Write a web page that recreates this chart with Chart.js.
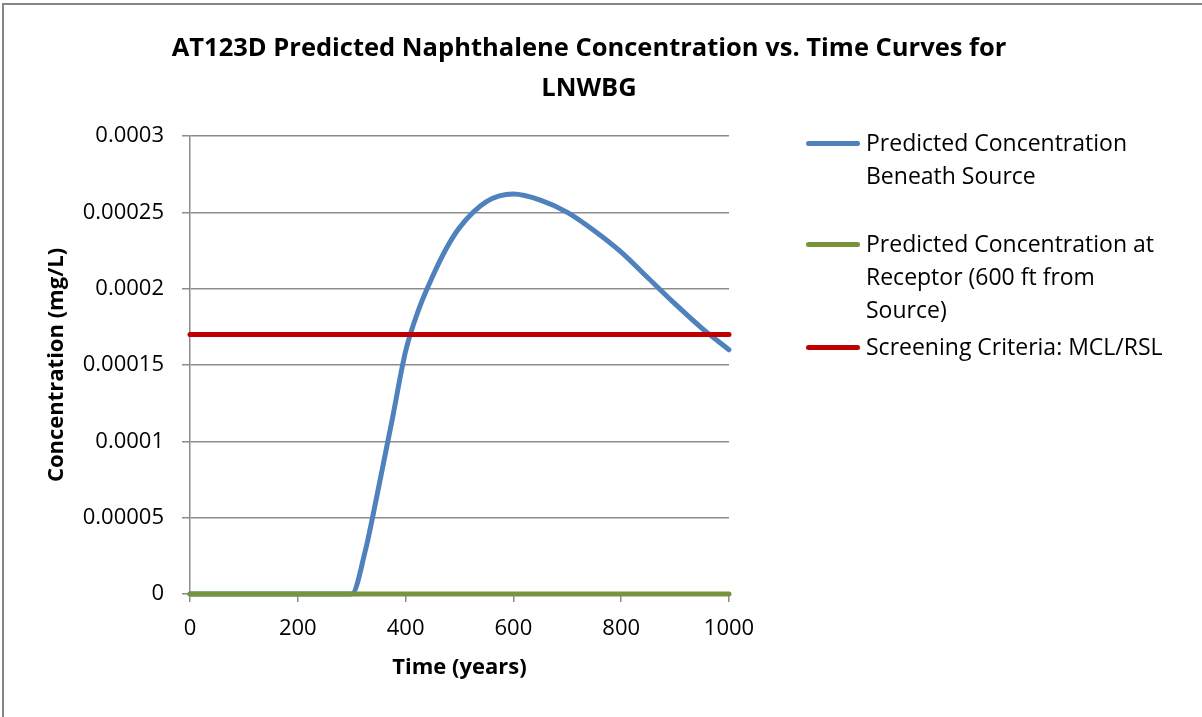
<!DOCTYPE html>
<html>
<head>
<meta charset="utf-8">
<script src="https://cdn.jsdelivr.net/npm/chart.js@4"></script>
<style>
  body { margin: 0; background: #fff; font-family: "Open Sans", sans-serif; }
  #wrap { position: absolute; left: 0; top: 0; width: 1202px; height: 717px; }
  #frame { position: absolute; left: 2px; top: 3px; width: 1210px; height: 730px;
           border-left: 2px solid #868686; border-top: 2px solid #868686; }
  #title { position: absolute; left: 0; width: 1178px; top: 26px; text-align: center;
           font-weight: bold; font-size: 25.5px; line-height: 40px; color: #000; }
  #legend { position: absolute; left: 806px; top: 0; }
  .entry { position: absolute; left: 0; white-space: pre; }
  .swatch { position: absolute; left: 0; width: 54px; height: 5px; border-radius: 3px; }
  .text { position: absolute; left: 60px; font-size: 23px; line-height: 33px; white-space: pre; color: #000; }
</style>
</head>
<body>
<div id="wrap">
  <div id="frame"></div>
  <canvas id="chart" width="1202" height="717"></canvas>
  <div id="title"></div>
  <div id="legend"></div>
</div>
<script>
// Chart text
const chartTitle = 'AT123D Predicted Naphthalene Concentration vs. Time Curves for\nLNWBG';
const xTitle = 'Time (years)';
const yTitle = 'Concentration (mg/L)';
const xTickLabels = ['0', '200', '400', '600', '800', '1000'];
const yTickLabels = ['0', '0.00005', '0.0001', '0.00015', '0.0002', '0.00025', '0.0003'];

// Series names
const seriesNames = [
    'Predicted Concentration\nBeneath Source',
    'Predicted Concentration at\nReceptor (600 ft from\nSource)',
    'Screening Criteria: MCL/RSL'
];

// Time points (years)
const years = [0, 50, 100, 150, 200, 250, 300, 325, 350, 375, 400, 425, 450, 475,
               500, 550, 600, 650, 700, 750, 800, 850, 900, 950, 1000];

// Concentrations (mg/L)
const beneathSource = [0, 0, 0, 0, 0, 0, 0, 0.000028, 0.000070, 0.000114, 0.000159, 0.000187,
                       0.000208, 0.000226, 0.000240, 0.000257, 0.000262, 0.000258, 0.000250,
                       0.000238, 0.000224, 0.000207, 0.000190, 0.000174, 0.000160];
const atReceptor = [0, 0, 0, 0, 0, 0, 0, 0, 0, 0, 0, 0, 0, 0,
                    0, 0, 0, 0, 0, 0, 0, 0, 0, 0, 0];
const criteriaYears = [0, 1000];
const criteria = [0.00017, 0.00017];

const colors = ['#4f81bd', '#77933c', '#c00000'];

const pts = (xs, ys) => xs.map((x, i) => ({ x: x, y: ys[i] }));

/**
 * Title and legend as HTML text
 */
function drawText() {
    document.getElementById('title').innerHTML = chartTitle.split('\n').join('<br>');

    const legendTops = [126, 227, 330];
    document.getElementById('legend').innerHTML = seriesNames.map((name, i) => `
        <div class="entry" style="top:${legendTops[i]}px">
            <div class="swatch" style="top:15px;background:${colors[i]}"></div>
            <div class="text" style="top:0">${name}</div>
        </div>
    `).join('');
}

const axisFont = { family: 'Open Sans', size: 22 };
const titleFont = { family: 'Open Sans', size: 22, weight: 'bold' };
const gridGray = '#8c8c8c';

function renderChart() {
    const ctx = document.getElementById('chart').getContext('2d');

    new Chart(ctx, {
        type: 'line',
        data: {
            datasets: [
                {
                    label: seriesNames[0],
                    data: pts(years, beneathSource),
                    borderColor: colors[0],
                    borderWidth: 5,
                    cubicInterpolationMode: 'monotone',
                    order: 2
                },
                {
                    label: seriesNames[1],
                    data: pts(years, atReceptor),
                    borderColor: colors[1],
                    borderWidth: 5,
                    order: 1
                },
                {
                    label: seriesNames[2],
                    data: pts(criteriaYears, criteria),
                    borderColor: colors[2],
                    borderWidth: 5,
                    order: 0
                }
            ]
        },
        options: {
            responsive: false,
            animation: false,
            clip: false,
            elements: {
                point: { radius: 0 },
                line: { borderCapStyle: 'round', fill: false }
            },
            layout: { padding: { left: 0, top: 136, right: 473, bottom: 0 } },
            plugins: {
                legend: { display: false },
                tooltip: { enabled: false }
            },
            scales: {
                x: {
                    type: 'linear',
                    min: 0,
                    max: 1000,
                    ticks: {
                        stepSize: 200,
                        color: '#000',
                        font: axisFont,
                        padding: 14,
                        maxRotation: 0,
                        callback: (value, index) => xTickLabels[index]
                    },
                    grid: { drawOnChartArea: false, drawTicks: true, tickLength: 8, color: gridGray, lineWidth: 1.5 },
                    border: { color: gridGray, width: 1.5 },
                    title: { display: true, text: xTitle, color: '#000', font: titleFont, padding: { top: 0, bottom: 36 } },
                    afterFit: scale => { scale.height = 123; }
                },
                y: {
                    min: 0,
                    max: 0.0003,
                    ticks: {
                        stepSize: 0.00005,
                        color: '#000',
                        font: axisFont,
                        padding: 18,
                        callback: (value, index) => yTickLabels[index]
                    },
                    grid: { color: gridGray, lineWidth: 1.5, tickLength: 8 },
                    border: { color: gridGray, width: 1.5 },
                    title: { display: true, text: yTitle, color: '#000', font: titleFont, padding: { top: 44, bottom: 0 } },
                    afterFit: scale => { scale.width = 190; }
                }
            }
        }
    });
}

drawText();
renderChart();
</script>
</body>
</html>
